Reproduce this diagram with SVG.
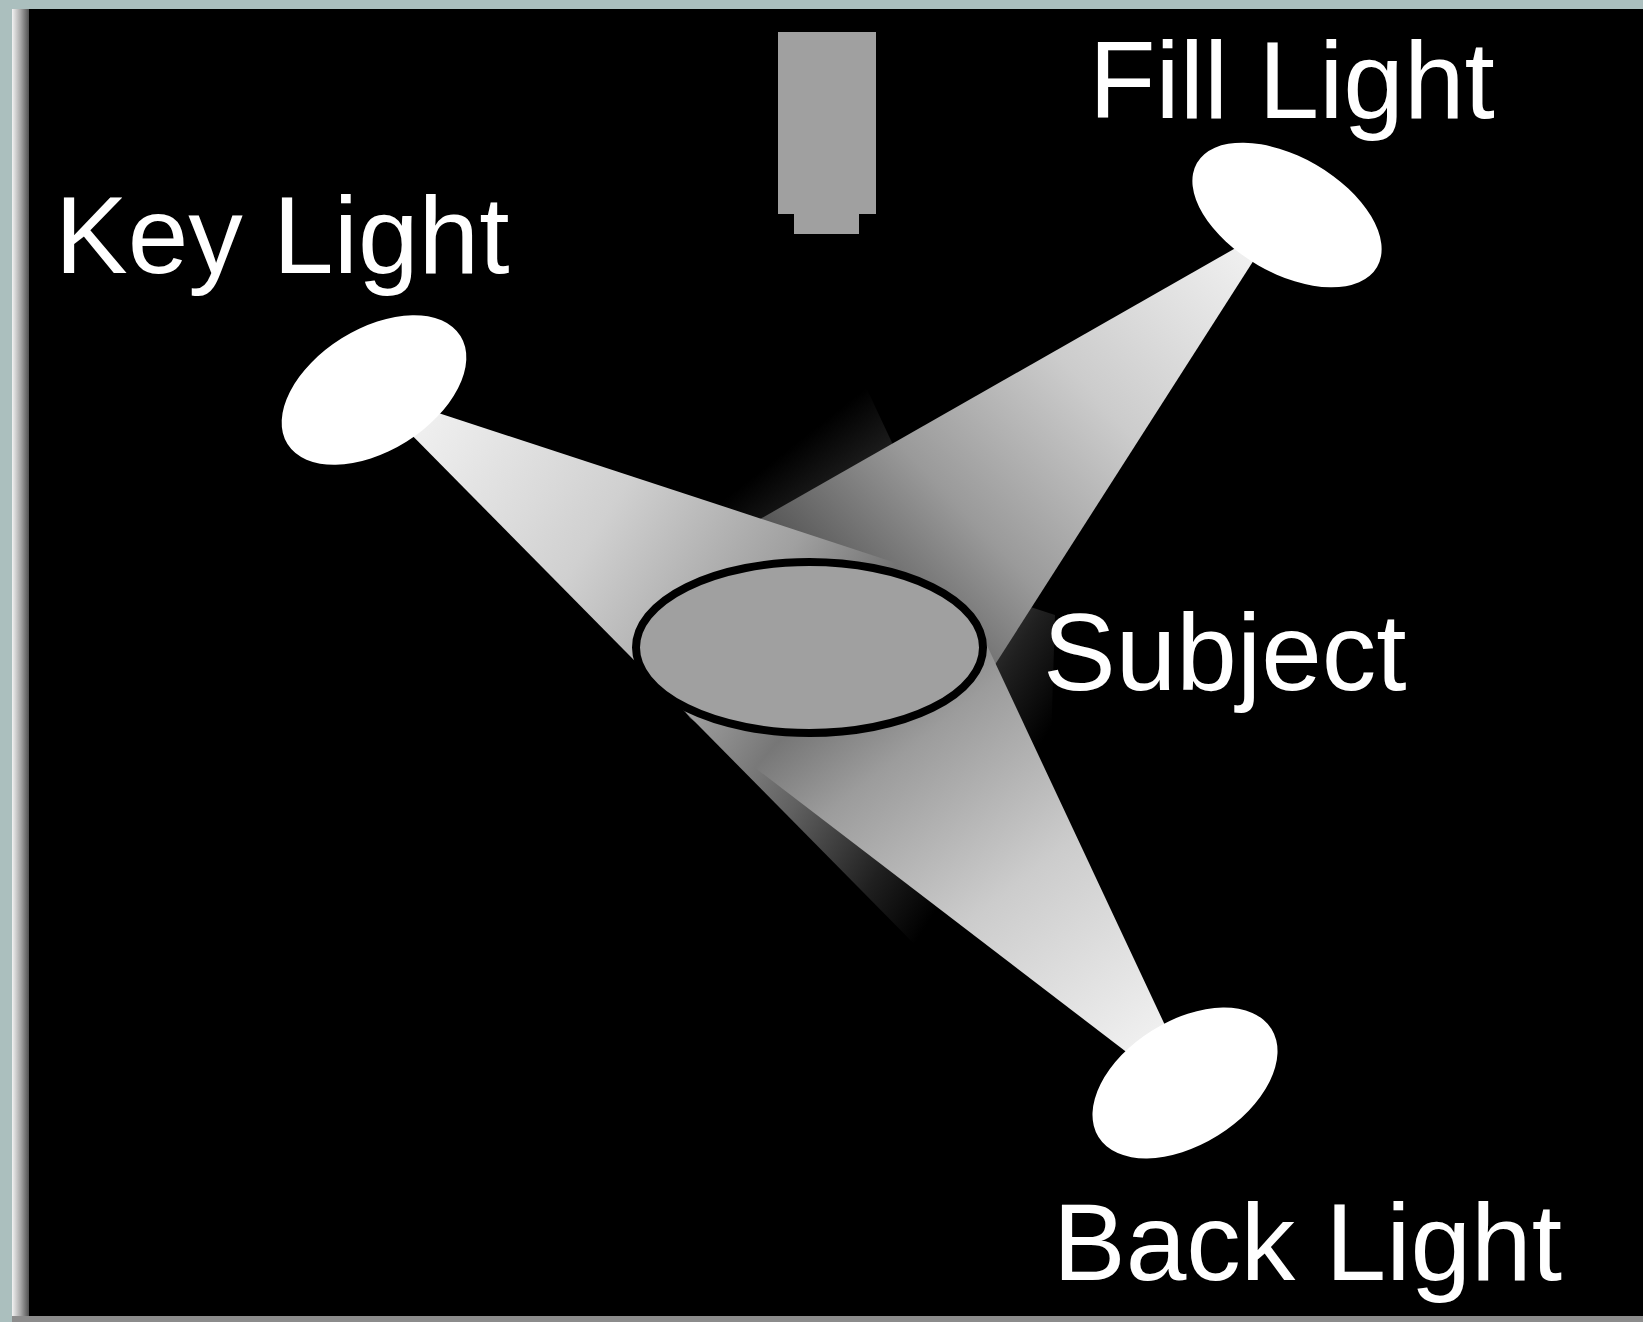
<svg xmlns="http://www.w3.org/2000/svg" width="1643" height="1322" viewBox="0 0 1643 1322">
  <style>
    .label { font-family: "Liberation Sans", Arial, sans-serif; font-size: 109px; fill: #ffffff; }
    .lamp { fill: #ffffff; }
    .beam { mix-blend-mode: lighten; }
  </style>
  <defs>
    <linearGradient id="edge" x1="0" y1="0" x2="1" y2="0">
      <stop offset="0" stop-color="#f2f2f2"/>
      <stop offset="0.5" stop-color="#a8a8a8"/>
      <stop offset="1" stop-color="#505050"/>
    </linearGradient>
    <linearGradient id="gKey" gradientUnits="userSpaceOnUse" x1="418" y1="420" x2="1010" y2="793">
      <stop offset="0" stop-color="#f0f0f0"/>
      <stop offset="0.3" stop-color="#d0d0d0"/>
      <stop offset="0.55" stop-color="#a0a0a0"/>
      <stop offset="0.75" stop-color="#606060"/>
      <stop offset="0.9" stop-color="#202020"/>
      <stop offset="1" stop-color="#000000"/>
    </linearGradient>
    <linearGradient id="gFill" gradientUnits="userSpaceOnUse" x1="1247" y1="251" x2="740" y2="733">
      <stop offset="0" stop-color="#f0f0f0"/>
      <stop offset="0.3" stop-color="#cccccc"/>
      <stop offset="0.55" stop-color="#9a9a9a"/>
      <stop offset="0.75" stop-color="#5c5c5c"/>
      <stop offset="0.9" stop-color="#202020"/>
      <stop offset="1" stop-color="#000000"/>
    </linearGradient>
    <linearGradient id="gBack" gradientUnits="userSpaceOnUse" x1="1148" y1="1044" x2="722" y2="501">
      <stop offset="0" stop-color="#f0f0f0"/>
      <stop offset="0.3" stop-color="#cccccc"/>
      <stop offset="0.55" stop-color="#9c9c9c"/>
      <stop offset="0.75" stop-color="#606060"/>
      <stop offset="0.9" stop-color="#202020"/>
      <stop offset="1" stop-color="#000000"/>
    </linearGradient>
  </defs>

  <!-- frame / background -->
  <rect x="0" y="0" width="1643" height="1322" fill="#abbfbe"/>
  <rect x="12" y="9" width="17" height="1307" fill="url(#edge)"/>
  <rect x="29" y="9" width="1614" height="1307" fill="#000000"/>
  <rect x="12" y="1316" width="1631" height="6" fill="#8c8c8c"/>

  <!-- light beams -->
  <g id="connectors" style="isolation:isolate">
    <polygon class="beam" fill="url(#gKey)" points="411,404 1055,615 1050,775 935,965 393,416"/>
    <polygon class="beam" fill="url(#gFill)" points="1255,237 1268,238 868,863 611,604"/>
    <polygon class="beam" fill="url(#gBack)" points="1146,1067 690,718 600,600 865,385 1178,1053"/>
  </g>

  <g id="node-camera">
    <rect x="778" y="32" width="98" height="182" fill="#a0a0a0"/>
    <rect x="794" y="213" width="65" height="21" fill="#a0a0a0"/>
  </g>

  <g id="node-subject">
    <ellipse cx="809.5" cy="647.5" rx="173.5" ry="85.5" fill="#a0a0a0" stroke="#000000" stroke-width="8"/>
    <text class="label" x="1043" y="690">Subject</text>
  </g>

  <g id="node-key-light">
    <ellipse class="lamp" cx="374" cy="390" rx="102" ry="61" transform="rotate(-32 374 390)"/>
    <text class="label" x="55" y="273">Key Light</text>
  </g>

  <g id="node-fill-light">
    <ellipse class="lamp" cx="1287" cy="215" rx="104" ry="58" transform="rotate(30 1287 215)"/>
    <text class="label" x="1089" y="118">Fill Light</text>
  </g>

  <g id="node-back-light">
    <ellipse class="lamp" cx="1185" cy="1083" rx="102" ry="62" transform="rotate(-32 1185 1083)"/>
    <text class="label" x="1053" y="1280">Back Light</text>
  </g>
</svg>
